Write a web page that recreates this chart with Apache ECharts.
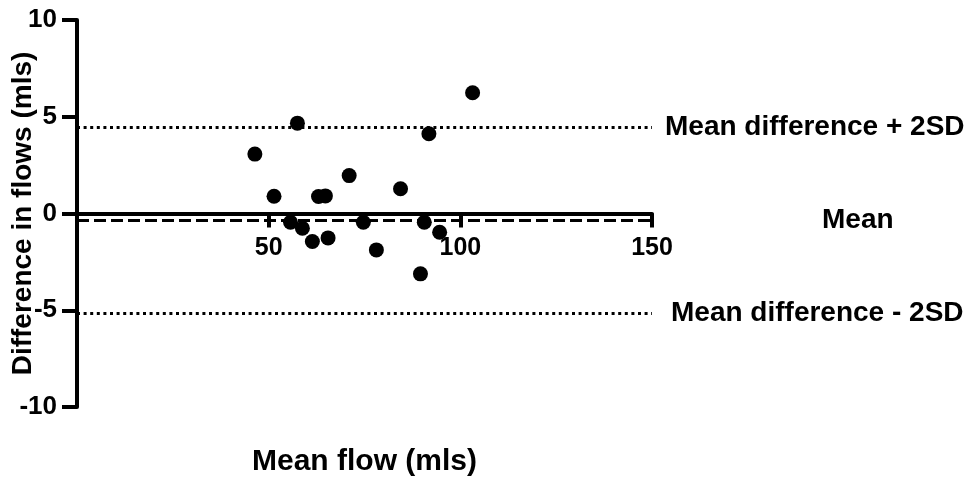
<!DOCTYPE html>
<html>
<head>
<meta charset="utf-8">
<script src="https://cdn.jsdelivr.net/npm/echarts@6/dist/echarts.min.js"></script>
<style>
  html, body { margin: 0; padding: 0; background: #fff; }
  #main { width: 970px; height: 493px; }
</style>
</head>
<body>
<div id="main"></div>
<script>
// Bland-Altman style plot: mean flow vs difference in flows
var meanFlow = [103.2, 57.5, 91.8, 46.4, 71.0, 84.4, 51.4, 63.0, 64.8, 55.7, 58.8, 74.7, 90.6, 94.6, 61.4, 65.5, 78.1, 89.6];
var diffFlow = [6.24, 4.67, 4.12, 3.07, 1.96, 1.28, 0.89, 0.88, 0.91, -0.45, -0.76, -0.45, -0.45, -0.97, -1.45, -1.26, -1.88, -3.12];

var meanDiff = -0.36;
var upperLimit = 4.44;
var lowerLimit = -5.16;
var lineLabels = ['Mean difference + 2SD', 'Mean', 'Mean difference - 2SD'];

var xTicks = [0, 150, 50];   // min, max, interval
var yTicks = [-10, 10, 5];

var FONT = '"Liberation Sans", Arial, sans-serif';

var chartDom = document.getElementById('main');
var myChart = echarts.init(chartDom);

var points = meanFlow.map(function (x, i) {
  return [x, diffFlow[i]];
});

var labelBase = {
  show: true,
  position: 'end',
  color: '#000',
  fontSize: 28,
  fontWeight: 'bold',
  fontFamily: FONT
};

var option = {
  animation: false,
  grid: {
    left: 77,
    right: 318,
    top: 20,
    bottom: 86,
    containLabel: false,
    outerBoundsMode: 'none'
  },
  xAxis: {
    type: 'value',
    min: xTicks[0],
    max: xTicks[1],
    interval: xTicks[2],
    name: 'Mean flow (mls)',
    nameLocation: 'middle',
    nameGap: 40,
    nameMoveOverlap: false,
    nameTextStyle: { fontSize: 30, fontWeight: 'bold', color: '#000', fontFamily: FONT },
    axisLine: { show: true, onZero: true, lineStyle: { color: '#000', width: 4 } },
    axisTick: { show: true, length: 14, lineStyle: { color: '#000', width: 4 } },
    axisLabel: {
      showMinLabel: false,
      margin: -171,
      fontSize: 25,
      fontWeight: 'bold',
      color: '#000',
      fontFamily: FONT
    },
    splitLine: { show: false }
  },
  yAxis: {
    type: 'value',
    min: yTicks[0],
    max: yTicks[1],
    interval: yTicks[2],
    name: 'Difference in flows (mls)',
    nameLocation: 'middle',
    nameGap: 40,
    nameMoveOverlap: false,
    nameTextStyle: { fontSize: 28, fontWeight: 'bold', color: '#000', fontFamily: FONT },
    axisLine: { show: true, lineStyle: { color: '#000', width: 4 } },
    axisTick: { show: true, length: 15, lineStyle: { color: '#000', width: 4 } },
    axisLabel: {
      margin: 20,
      fontSize: 26,
      fontWeight: 'bold',
      color: '#000',
      fontFamily: FONT
    },
    splitLine: { show: false }
  },
  series: [
    {
      // reference lines only
      type: 'scatter',
      data: [],
      z: 1,
      markLine: {
        silent: true,
        symbol: 'none',
        animation: false,
        data: [
          {
            yAxis: upperLimit,
            lineStyle: { color: '#000', width: 3, type: [3, 3.6] },
            label: Object.assign({}, labelBase, { formatter: lineLabels[0], distance: 13 })
          },
          {
            yAxis: meanDiff,
            lineStyle: { color: '#000', width: 3, type: [12, 5] },
            label: Object.assign({}, labelBase, { formatter: lineLabels[1], distance: 170 })
          },
          {
            yAxis: lowerLimit,
            lineStyle: { color: '#000', width: 3, type: [3, 3.6] },
            label: Object.assign({}, labelBase, { formatter: lineLabels[2], distance: 19 })
          }
        ]
      }
    },
    {
      type: 'scatter',
      z: 3,
      symbol: 'circle',
      symbolSize: 15,
      itemStyle: { color: '#000', opacity: 1 },
      data: points
    }
  ]
};

myChart.setOption(option);
</script>
</body>
</html>
